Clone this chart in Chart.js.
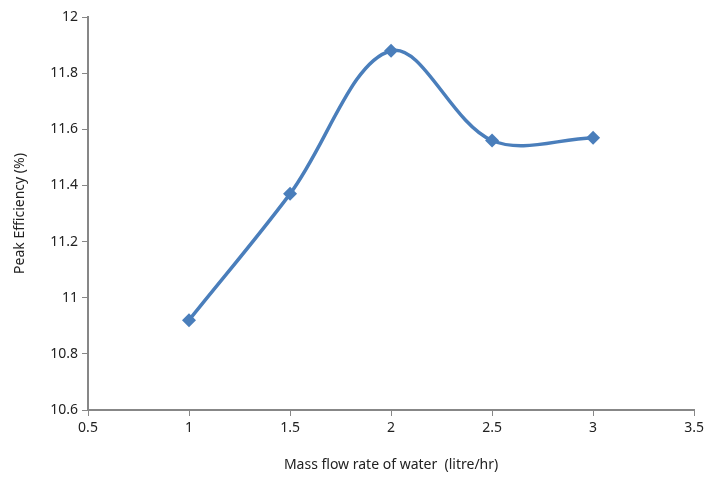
<div style="position: absolute; left: 0; top: 0; width: 708px; height: 477px;">
    <canvas id="myChart" width="708" height="477"></canvas>
</div>

<script src="https://cdn.jsdelivr.net/npm/chart.js"></script>

<style>
    body { margin: 0; background: white; }
</style>

<script>
    const flowRates = [1, 1.5, 2, 2.5, 3];
    const peakEfficiency = [10.92, 11.37, 11.88, 11.56, 11.57];
    const xTicks = [0.5, 1, 1.5, 2, 2.5, 3, 3.5];
    const yTicks = [10.6, 10.8, 11, 11.2, 11.4, 11.6, 11.8, 12];

    const ctx = document.getElementById('myChart');
    const axisColor = '#878787';
    const font = {family: "'Noto Sans', sans-serif", size: 14};

    const points = flowRates.map((x, i) => ({x: x, y: peakEfficiency[i]}));

    new Chart(ctx, {
        type: 'scatter',
        data: {
            datasets: [{
                label: 'Peak Efficiency',
                data: points,
                showLine: true,
                tension: 0.35,
                borderColor: '#4a7ebb',
                backgroundColor: '#4a7ebb',
                borderWidth: 3.5,
                pointStyle: 'rectRot',
                pointRadius: 7,
                pointBorderWidth: 0
            }]
        },
        options: {
            responsive: false,
            animation: false,
            layout: {padding: {top: 17, right: 11, left: 0, bottom: 0}},
            plugins: {
                legend: {display: false},
                tooltip: {enabled: false}
            },
            scales: {
                x: {
                    type: 'linear',
                    min: 0.5,
                    max: 3.5,
                    afterBuildTicks: axis => { axis.ticks = xTicks.map(v => ({value: v})); },
                    afterFit: axis => { axis.height = 67; },
                    grid: {drawOnChartArea: false, color: axisColor, tickLength: 6},
                    border: {color: axisColor, width: 2},
                    ticks: {color: '#222', font: font, padding: 4, maxRotation: 0, callback: v => String(v)},
                    title: {display: true, text: 'Mass flow rate of water  (litre/hr)', color: '#222', font: font, padding: {top: 6}}
                },
                y: {
                    min: 10.6,
                    max: 12,
                    afterBuildTicks: axis => { axis.ticks = yTicks.map(v => ({value: v})); },
                    afterFit: axis => { axis.width = 88; },
                    grid: {drawOnChartArea: false, color: axisColor, tickLength: 6},
                    border: {color: axisColor, width: 2},
                    ticks: {color: '#222', font: font, padding: 4, callback: v => String(v)},
                    title: {display: true, text: 'Peak Efficiency (%)', color: '#222', font: font, padding: {top: 12, bottom: 4}}
                }
            }
        }
    });
</script>
